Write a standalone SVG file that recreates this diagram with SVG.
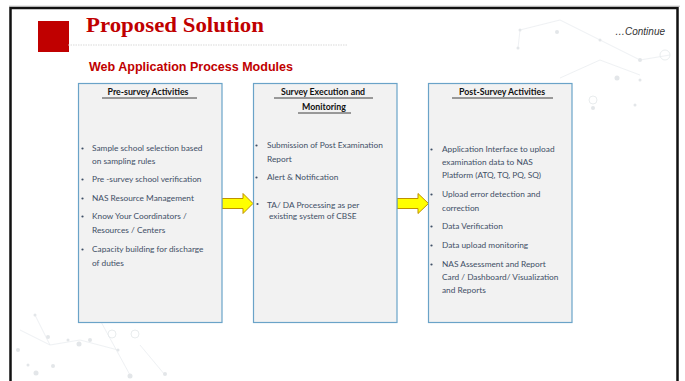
<svg xmlns="http://www.w3.org/2000/svg" width="685" height="381" viewBox="0 0 685 381">
<style>
.bg-line{stroke:#dde3e7;stroke-width:0.6;fill:none}
.bg-dot{fill:#dde1e4}
.box{fill:#f2f2f2;stroke:#6aa3c8;stroke-width:1.2}
.hdr{font-family:Lato,"Liberation Sans",sans-serif;font-weight:bold;font-size:8.8px;fill:#111;text-anchor:middle}
.ul{stroke:#111;stroke-width:0.8}
.txt{font-family:Lato,"Liberation Sans",sans-serif;font-size:8.3px;fill:#3f4f66}
.bul{fill:#3f4f66}
.arrow{fill:#ffff00;stroke:#bf9000;stroke-width:1}
</style>
<rect x="0" y="0" width="685" height="381" fill="#ffffff"/>
<g id="background">
  <g opacity="0.8">
    <line class="bg-line" x1="520" y1="30" x2="560" y2="20"/>
    <line class="bg-line" x1="560" y1="20" x2="600" y2="40"/>
    <line class="bg-line" x1="520" y1="30" x2="518" y2="48"/>
    <line class="bg-line" x1="600" y1="40" x2="640" y2="60"/>
    <line class="bg-line" x1="640" y1="60" x2="670" y2="55"/>
    <line class="bg-line" x1="600" y1="60" x2="640" y2="75"/>
    <line class="bg-line" x1="560" y1="78" x2="600" y2="60"/>
    <circle class="bg-dot" cx="520" cy="30" r="1.5"/>
    <circle class="bg-dot" cx="557" cy="32" r="2"/>
    <circle class="bg-dot" cx="518" cy="48" r="1.5"/>
    <circle class="bg-dot" cx="600" cy="40" r="1.5"/>
    <circle class="bg-dot" cx="640" cy="60" r="2"/>
    <circle class="bg-dot" cx="617" cy="78" r="2.5"/>
    <circle class="bg-dot" cx="640" cy="80" r="1.5"/>
    <circle cx="665" cy="55" r="5" fill="none" stroke="#dde3e6" stroke-width="0.8"/>
    <circle cx="593" cy="100" r="4" fill="none" stroke="#dde3e6" stroke-width="0.8"/>
    <circle class="bg-dot" cx="593" cy="108" r="2"/>
    <circle class="bg-dot" cx="635" cy="105" r="1.5"/>
  </g>
  <g opacity="0.8">
    <line class="bg-line" x1="35" y1="315" x2="50" y2="345"/>
    <line class="bg-line" x1="50" y1="345" x2="80" y2="340"/>
    <line class="bg-line" x1="80" y1="340" x2="118" y2="350"/>
    <line class="bg-line" x1="100" y1="320" x2="130" y2="375"/>
    <line class="bg-line" x1="140" y1="345" x2="165" y2="375"/>
    <line class="bg-line" x1="20" y1="330" x2="50" y2="345"/>
    <circle class="bg-dot" cx="35" cy="315" r="1.5"/>
    <circle class="bg-dot" cx="48" cy="337" r="2"/>
    <circle class="bg-dot" cx="68" cy="340" r="1.5"/>
    <circle class="bg-dot" cx="79" cy="344" r="2.5"/>
    <circle class="bg-dot" cx="90" cy="340" r="2"/>
    <circle class="bg-dot" cx="18" cy="350" r="2"/>
    <circle class="bg-dot" cx="28" cy="365" r="1.5"/>
    <circle class="bg-dot" cx="36" cy="373" r="2.5"/>
    <circle class="bg-dot" cx="53" cy="366" r="2"/>
    <circle class="bg-dot" cx="118" cy="350" r="1.5"/>
    <circle class="bg-dot" cx="130" cy="376" r="2.5"/>
    <circle class="bg-dot" cx="165" cy="374" r="2"/>
    <circle cx="112" cy="334" r="4" fill="none" stroke="#dde3e6" stroke-width="0.8"/>
    <circle cx="135" cy="334" r="4" fill="none" stroke="#dde3e6" stroke-width="0.8"/>
  </g>
</g>
<rect x="10.5" y="8" width="667" height="390" fill="none" stroke="#111" stroke-width="2.5"/>
<line x1="9" y1="6.2" x2="680" y2="6.2" stroke="#aaa" stroke-width="0.8"/>
<g id="header">
  <rect x="38" y="21" width="31" height="31" fill="#c00000"/>
  <text x="86" y="32" font-family="'Liberation Serif',serif" font-weight="bold" font-size="21px" fill="#c00000" textLength="178" lengthAdjust="spacingAndGlyphs">Proposed Solution</text>
  <line x1="68" y1="45" x2="348" y2="45" stroke="#cfcfcf" stroke-width="0.8" stroke-dasharray="1.5,1"/>
  <text x="89" y="71" font-family="'Liberation Sans',sans-serif" font-weight="bold" font-size="12px" fill="#c00000" textLength="204" lengthAdjust="spacingAndGlyphs">Web Application Process Modules</text>
  <text x="665" y="35" text-anchor="end" font-family="'Liberation Sans',sans-serif" font-style="italic" font-size="10px" fill="#333">…Continue</text>
</g>
<g id="connectors">
  <path class="arrow" d="M222,198.5 H243 V193.5 L253,203.5 L243,213.5 V208.5 H222 Z"/>
  <path class="arrow" d="M397,198.5 H418 V193.5 L428.5,203.5 L418,213.5 V208.5 H397 Z"/>
</g>
<g id="pre-survey">
  <rect class="box" x="78.5" y="83.5" width="143.5" height="239"/>
  <text class="hdr" x="148" y="95">Pre-survey Activities</text>
  <line class="ul" x1="102" y1="98" x2="197" y2="98"/>
  <circle class="bul" cx="82.5" cy="148.5" r="1.1"/>
  <text class="txt" x="92" y="151">Sample school selection based</text>
  <text class="txt" x="92" y="164">on sampling rules</text>
  <circle class="bul" cx="82.5" cy="179.5" r="1.1"/>
  <text class="txt" x="92" y="182">Pre -survey school verification</text>
  <circle class="bul" cx="82.5" cy="198.5" r="1.1"/>
  <text class="txt" x="92" y="201">NAS Resource Management</text>
  <circle class="bul" cx="82.5" cy="216.5" r="1.1"/>
  <text class="txt" x="92" y="219">Know Your Coordinators /</text>
  <text class="txt" x="92" y="233">Resources / Centers</text>
  <circle class="bul" cx="82.5" cy="249.5" r="1.1"/>
  <text class="txt" x="92" y="252">Capacity building for discharge</text>
  <text class="txt" x="92" y="266">of duties</text>
</g>
<g id="survey-execution">
  <rect class="box" x="253.5" y="83.5" width="143.5" height="239"/>
  <text class="hdr" x="323" y="95">Survey Execution and</text>
  <line class="ul" x1="274" y1="98" x2="373" y2="98"/>
  <text class="hdr" x="324" y="110">Monitoring</text>
  <line class="ul" x1="298" y1="113" x2="351" y2="113"/>
  <circle class="bul" cx="256.5" cy="145.5" r="1.1"/>
  <text class="txt" x="267" y="148">Submission of Post Examination</text>
  <text class="txt" x="267" y="162">Report</text>
  <circle class="bul" cx="256.5" cy="177.5" r="1.1"/>
  <text class="txt" x="267" y="180">Alert &amp; Notification</text>
  <circle class="bul" cx="257.5" cy="204" r="1.1"/>
  <text class="txt" x="267" y="208">TA/ DA Processing as per</text>
  <text class="txt" x="269" y="219">existing system of CBSE</text>
</g>
<g id="post-survey">
  <rect class="box" x="428.5" y="83.5" width="143.5" height="239"/>
  <text class="hdr" x="502" y="95">Post-Survey Activities</text>
  <line class="ul" x1="452" y1="98" x2="553" y2="98"/>
  <circle class="bul" cx="431.5" cy="149.5" r="1.1"/>
  <text class="txt" x="442" y="152">Application Interface to upload</text>
  <text class="txt" x="442" y="165">examination data to NAS</text>
  <text class="txt" x="442" y="178">Platform (ATQ, TQ, PQ, SQ)</text>
  <circle class="bul" cx="431.5" cy="194.5" r="1.1"/>
  <text class="txt" x="442" y="197">Upload error detection and</text>
  <text class="txt" x="442" y="211">correction</text>
  <circle class="bul" cx="431.5" cy="226.5" r="1.1"/>
  <text class="txt" x="442" y="229">Data Verification</text>
  <circle class="bul" cx="431.5" cy="245.5" r="1.1"/>
  <text class="txt" x="442" y="248">Data upload monitoring</text>
  <circle class="bul" cx="431.5" cy="264.5" r="1.1"/>
  <text class="txt" x="442" y="267">NAS Assessment and Report</text>
  <text class="txt" x="442" y="280">Card / Dashboard/ Visualization</text>
  <text class="txt" x="442" y="293">and Reports</text>
</g>
</svg>
